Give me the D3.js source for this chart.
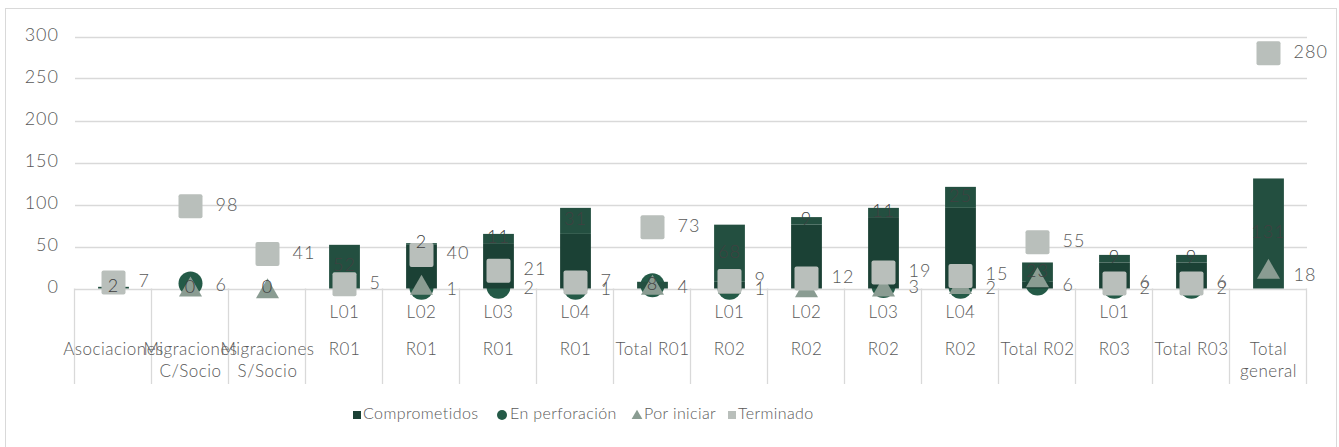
<!DOCTYPE html>
<html>
<head>
<meta charset="utf-8">
<script src="https://cdn.jsdelivr.net/npm/d3@7"></script>
<style>
  body { margin: 0; background: #fff; }
  text { font-family: Lato, "Open Sans", sans-serif; font-weight: 300; }
  .num { letter-spacing: 1px; }
</style>
</head>
<body>
<script>
// datos
var subnivel = ["", "", "", "L01", "L02", "L03", "L04", "", "L01", "L02", "L03", "L04", "", "L01", "", ""];
var grupo = [["Asociaciones"], ["Migraciones", "C/Socio"], ["Migraciones", "S/Socio"],
  ["R01"], ["R01"], ["R01"], ["R01"], ["Total R01"],
  ["R02"], ["R02"], ["R02"], ["R02"], ["Total R02"],
  ["R03"], ["Total R03"], ["Total", "general"]];
var acumulado     = [0, 0, 0, 0, 52, 54, 65, 0, 8, 76, 85, 96, 8, 31, 31, 0];
var comprometidos = [2, 0, 0, 52, 2, 11, 31, 8, 68, 9, 11, 25, 23, 9, 9, 131];
var enPerforacion = [null, 6, null, null, 1, 2, 1, 4, 1, null, 3, 2, 6, 2, 2, 18];
var porIniciar    = [null, 2, 0, null, 4, null, null, 4, 5, 1, 2, 5, 13, null, null, 23];
var terminado     = [7, 98, 41, 5, 40, 21, 7, 73, 9, 12, 19, 15, 55, 6, 6, 280];
var yTicks = [0, 50, 100, 150, 200, 250, 300];
var leyenda = ["Comprometidos", "En perforación", "Por iniciar", "Terminado"];

var width = 1339, height = 447;
var cBase = "#1b4135", cComp = "#234f40", cCirc = "#245a47", cTri = "#8a9c92", cSq = "#b9bfbb";
var grid = "#d9d9d9", txt = "#595959", lbl = "#404040";

var svg = d3.select("body").append("svg")
  .attr("width", width).attr("height", height);

// marco
svg.append("rect").attr("x", 5.5).attr("y", 8.5).attr("width", 1331).attr("height", 460)
  .attr("fill", "none").attr("stroke", grid);

var idx = d3.range(subnivel.length);
var x = d3.scaleBand().domain(idx).range([75, 1307]).padding(0);
var y = d3.scaleLinear().domain([0, 300]).range([288.5, 36.5]);
var bw = x.bandwidth() * 0.4;
var cx = function(i) { return x(i) + x.bandwidth() / 2; };

// rejilla
svg.append("g").selectAll("line").data(yTicks).enter().append("line")
  .attr("x1", 75).attr("x2", 1307)
  .attr("y1", function(d) { return Math.round(y(d)) + 0.5; })
  .attr("y2", function(d) { return Math.round(y(d)) + 0.5; })
  .attr("stroke", grid).attr("stroke-width", 1.3);

svg.append("g").selectAll("text").data(yTicks).enter().append("text")
  .attr("class", "num")
  .attr("x", 59).attr("y", function(d) { return y(d); })
  .attr("text-anchor", "end").attr("dominant-baseline", "middle")
  .attr("font-size", 18).attr("fill", txt)
  .text(function(d) { return d; });

// separadores del eje de categorias
svg.append("g").selectAll("line").data(d3.range(subnivel.length + 1)).enter().append("line")
  .attr("x1", function(i) { return Math.round(75 + i * x.bandwidth()) - 0.5; })
  .attr("x2", function(i) { return Math.round(75 + i * x.bandwidth()) - 0.5; })
  .attr("y1", y(0)).attr("y2", 384)
  .attr("stroke", grid).attr("stroke-width", 1.3);

// etiquetas de categorias
svg.append("g").selectAll("text").data(idx).enter().append("text")
  .attr("x", cx).attr("y", 313.5)
  .attr("text-anchor", "middle").attr("dominant-baseline", "middle")
  .attr("font-size", 17).attr("letter-spacing", 0.5).attr("fill", txt)
  .text(function(i) { return subnivel[i]; });

idx.forEach(function(i) {
  grupo[i].forEach(function(t, k) {
    svg.append("text").attr("x", cx(i)).attr("y", 351 + k * 22)
      .attr("text-anchor", "middle").attr("dominant-baseline", "middle")
      .attr("font-size", 17).attr("letter-spacing", 0.5).attr("fill", txt).text(t);
  });
});

// En perforacion (queda detras de las columnas)
svg.append("g").selectAll("circle").data(idx.filter(function(i) { return enPerforacion[i] !== null; }))
  .enter().append("circle")
  .attr("cx", cx).attr("cy", function(i) { return y(enPerforacion[i]); })
  .attr("r", 12).attr("fill", cCirc);

// columnas
svg.append("g").selectAll("rect").data(idx).enter().append("rect")
  .attr("x", function(i) { return cx(i) - bw / 2; }).attr("width", bw)
  .attr("y", function(i) { return y(acumulado[i]); })
  .attr("height", function(i) { return y(0) - y(acumulado[i]); })
  .attr("fill", cBase);
svg.append("g").selectAll("rect").data(idx).enter().append("rect")
  .attr("x", function(i) { return cx(i) - bw / 2; }).attr("width", bw)
  .attr("y", function(i) { return y(acumulado[i] + comprometidos[i]); })
  .attr("height", function(i) { return y(acumulado[i]) - y(acumulado[i] + comprometidos[i]); })
  .attr("fill", cComp);

// Por iniciar
var tri = d3.symbol().type(d3.symbolTriangle).size(230);
svg.append("g").selectAll("path").data(idx.filter(function(i) { return porIniciar[i] !== null; }))
  .enter().append("path")
  .attr("d", tri)
  .attr("transform", function(i) { return "translate(" + cx(i) + "," + (y(porIniciar[i]) + 3) + ")"; })
  .attr("fill", cTri);

// Terminado
svg.append("g").selectAll("rect").data(idx).enter().append("rect")
  .attr("x", function(i) { return cx(i) - 12; })
  .attr("y", function(i) { return y(terminado[i]) - 12; })
  .attr("width", 24).attr("height", 24).attr("rx", 2)
  .attr("fill", cSq);

// etiquetas
svg.append("g").selectAll("text").data(idx).enter().append("text")
  .attr("class", "num")
  .attr("x", cx)
  .attr("y", function(i) { return y(acumulado[i] + comprometidos[i] / 2); })
  .attr("text-anchor", "middle").attr("dominant-baseline", "middle")
  .attr("font-size", 18).attr("fill", lbl)
  .text(function(i) { return comprometidos[i]; });

svg.append("g").selectAll("text").data(idx.filter(function(i) { return enPerforacion[i] !== null; }))
  .enter().append("text")
  .attr("class", "num")
  .attr("x", function(i) { return cx(i) + 25; })
  .attr("y", function(i) { return y(enPerforacion[i]) + 3; })
  .attr("dominant-baseline", "middle")
  .attr("font-size", 18).attr("fill", txt)
  .text(function(i) { return enPerforacion[i]; });

svg.append("g").selectAll("text").data(idx).enter().append("text")
  .attr("class", "num")
  .attr("x", function(i) { return cx(i) + 25; })
  .attr("y", function(i) { return y(terminado[i]); })
  .attr("dominant-baseline", "middle")
  .attr("font-size", 18).attr("fill", txt)
  .text(function(i) { return terminado[i]; });

// leyenda
var legX = [353, 498, 632, 728];
var leg = svg.append("g").selectAll("g").data(leyenda).enter().append("g")
  .attr("transform", function(d, i) { return "translate(" + legX[i] + ",414)"; });
leg.each(function(d, i) {
  var g = d3.select(this);
  if (i === 0 || i === 3) {
    g.append("rect").attr("x", 0).attr("y", -3).attr("width", 8).attr("height", 8)
      .attr("fill", i === 0 ? cBase : cSq);
  } else if (i === 1) {
    g.append("circle").attr("cx", 4).attr("cy", 1).attr("r", 5).attr("fill", cCirc);
  } else {
    g.append("path").attr("d", d3.symbol().type(d3.symbolTriangle).size(50))
      .attr("transform", "translate(5,2)").attr("fill", cTri);
  }
  g.append("text").attr("x", i === 0 || i === 3 ? 10 : 12).attr("y", 1)
    .attr("dominant-baseline", "middle").attr("font-size", 16).attr("letter-spacing", 0.4)
    .attr("fill", txt)
    .text(d);
});
</script>
</body>
</html>
